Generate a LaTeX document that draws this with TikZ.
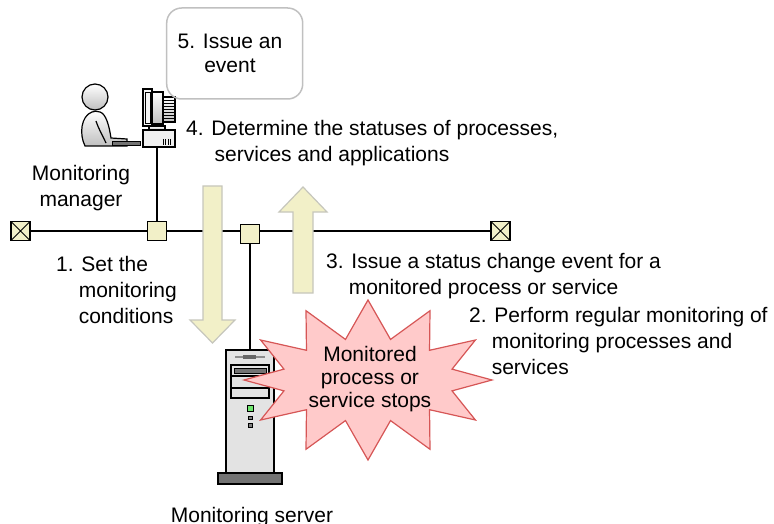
\documentclass[tikz,border=0pt]{standalone}
\usepackage{fontspec}
\setmainfont{Liberation Sans}
\usetikzlibrary{arrows.meta, positioning, calc}

\definecolor{padyellow}{RGB}{242,240,200}
\definecolor{flowedge}{RGB}{198,198,188}
\definecolor{burstfill}{RGB}{255,202,202}
\definecolor{burstedge}{RGB}{214,86,86}
\definecolor{boxedge}{RGB}{192,192,192}
\definecolor{ledgreen}{RGB}{110,230,110}

\tikzset{
  lan/.style={line width=1.6pt},
  junction/.style={draw, line width=1.2pt, fill=padyellow, minimum size=19pt, inner sep=0pt},
  terminator/.style={junction, path picture={
      \draw[line width=1pt] (path picture bounding box.south west) -- (path picture bounding box.north east)
                            (path picture bounding box.north west) -- (path picture bounding box.south east);}},
  flow/.style={fill=padyellow, draw=flowedge, line width=1.2pt, line join=miter},
  steptext/.style={anchor=base west, align=left, inner sep=0pt},
  burst/.style={fill=burstfill, draw=burstedge, line width=1.2pt, line join=miter},
  figure/.style={top color=white, bottom color=black!25, draw=black, line width=1.2pt},
}

\begin{document}
\begin{tikzpicture}[x=1pt, y=-1pt, font=\fontsize{21}{26}\selectfont]
  \useasboundingbox (0,0) rectangle (774,524);

  % LAN with its two ends and the two taps
  \node[terminator] (endl) at (20.5,231) {};
  \node[terminator] (endr) at (500.5,231) {};
  \node[junction] (jmgr) at (157,231) {};
  \node[junction] (jsrv) at (250,234) {};
  \draw[lan] (endl) -- (jmgr) -- (jsrv.west |- jmgr);
  \draw[lan] (jsrv.east |- jmgr) -- (endr);

  % Operator at the manager console
  \draw[figure] (95,97) circle (13);
  \draw[figure] (92,112) .. controls (81,116) and (79,134) .. (85,146) -- (127,146) -- (127,139)
    -- (111,138) .. controls (109,125) and (106,114) .. (100,112) .. controls (97,111) and (94,111) .. (92,112) -- cycle;
  \draw[line width=1.2pt] (96,121) .. controls (99,130) and (103,136) .. (106,143);
  \filldraw[fill=black!55, line width=1pt] (112,142) rectangle (140,146);

  % Monitor and desktop case
  \draw[figure] (152,92) rectangle (163,124);
  \draw[figure] (163,97) rectangle (175,122);
  \foreach \y in {100,103,...,120}
    \draw[line width=0.8pt] (164,\y) -- (174,\y);
  \filldraw[fill=black!4, line width=1.2pt] (143,89) rectangle (152,126);
  \draw[line width=0.8pt] (145,92) rectangle (150,123);
  \draw[figure] (149,126) rectangle (165,130);
  \filldraw[fill=black!6, line width=1.2pt] (143,130) rectangle (175,147);
  \foreach \x in {163,165.5,...,171}
    \draw[line width=0.8pt] (\x,139) -- (\x,145);
  \coordinate (pcbase) at (157,147);
  \draw[lan] (jmgr) -- (pcbase);

  % Server tower
  \node[draw, line width=1.6pt, fill=black!11, minimum width=48, minimum height=123, inner sep=0pt] (srv) at (250,411.5) {};
  \filldraw[fill=black!55, line width=1.2pt] (218,473) rectangle (282,484);
  \draw[line width=1.5pt, black!45] (235,357) -- (265,357);
  \fill[black!60] (243,355) rectangle (256,359);
  \draw[line width=1.2pt] (231,365) rectangle (269,398) (231,376) -- (269,376) (231,388) -- (269,388);
  \filldraw[fill=black!55, line width=1pt] (234,368) rectangle (266,373);
  \filldraw[fill=ledgreen, line width=0.8pt] (247,405) rectangle (253,411);
  \filldraw[fill=black!50, line width=0.8pt] (248,416) rectangle (252,419) (248,423) rectangle (252,427);
  \draw[lan] (jsrv) -- (srv);

  % Flows across the LAN
  \draw[flow] (203,186) -- (222,186) -- (222,320) -- (235,320) -- (212.5,343) -- (190,320) -- (203,320) -- cycle;
  \draw[flow] (293,293) -- (313,293) -- (313,212) -- (327,212) -- (303,187) -- (279,212) -- (293,212) -- cycle;

  % Failure on the server
  \coordinate (bc) at (368,380);
  \draw[burst] ($(bc)+(0:124 and 80)$)
    \foreach \a in {0,30,...,300} { -- ($(bc)+(\a+15:87 and 42)$) -- ($(bc)+(\a+30:124 and 80)$) }
    -- ($(bc)+(345:87 and 42)$) -- cycle;
  \node[align=center, inner sep=0pt, font=\fontsize{21}{23}\selectfont] (stop) at (370,379)
    {Monitored\\process or\\service stops};

  % Event box
  \node[draw=boxedge, line width=1.5pt, rounded corners=15pt, minimum width=136, minimum height=91] (evbox) at (234.7,53.5) {};
  \node[align=center, inner sep=0pt, font=\fontsize{21}{24}\selectfont] (evtext) at (230,53) {5. Issue an\\event};

  % Steps (base anchor sits on the last line)
  \node[align=center, anchor=base, inner sep=0pt] (mgrname) at (81,206) {Monitoring\\manager};
  \node[anchor=base, inner sep=0pt] (srvname) at (252,522) {Monitoring server};
  \node[steptext] (judge) at (186,162) {4. Determine the statuses of processes,\\\hspace*{28.5pt}services and applications};
  \node[steptext] (setcond) at (56,323) {1. Set the\\\hspace*{22.6pt}monitoring\\\hspace*{22.6pt}conditions};
  \node[steptext] (notify) at (326,294) {3. Issue a status change event for a\\\hspace*{22.6pt}monitored process or service};
  \node[steptext] (watch) at (469,374) {2. Perform regular monitoring of\\\hspace*{22.6pt}monitoring processes and\\\hspace*{22.6pt}services};
\end{tikzpicture}
\end{document}
